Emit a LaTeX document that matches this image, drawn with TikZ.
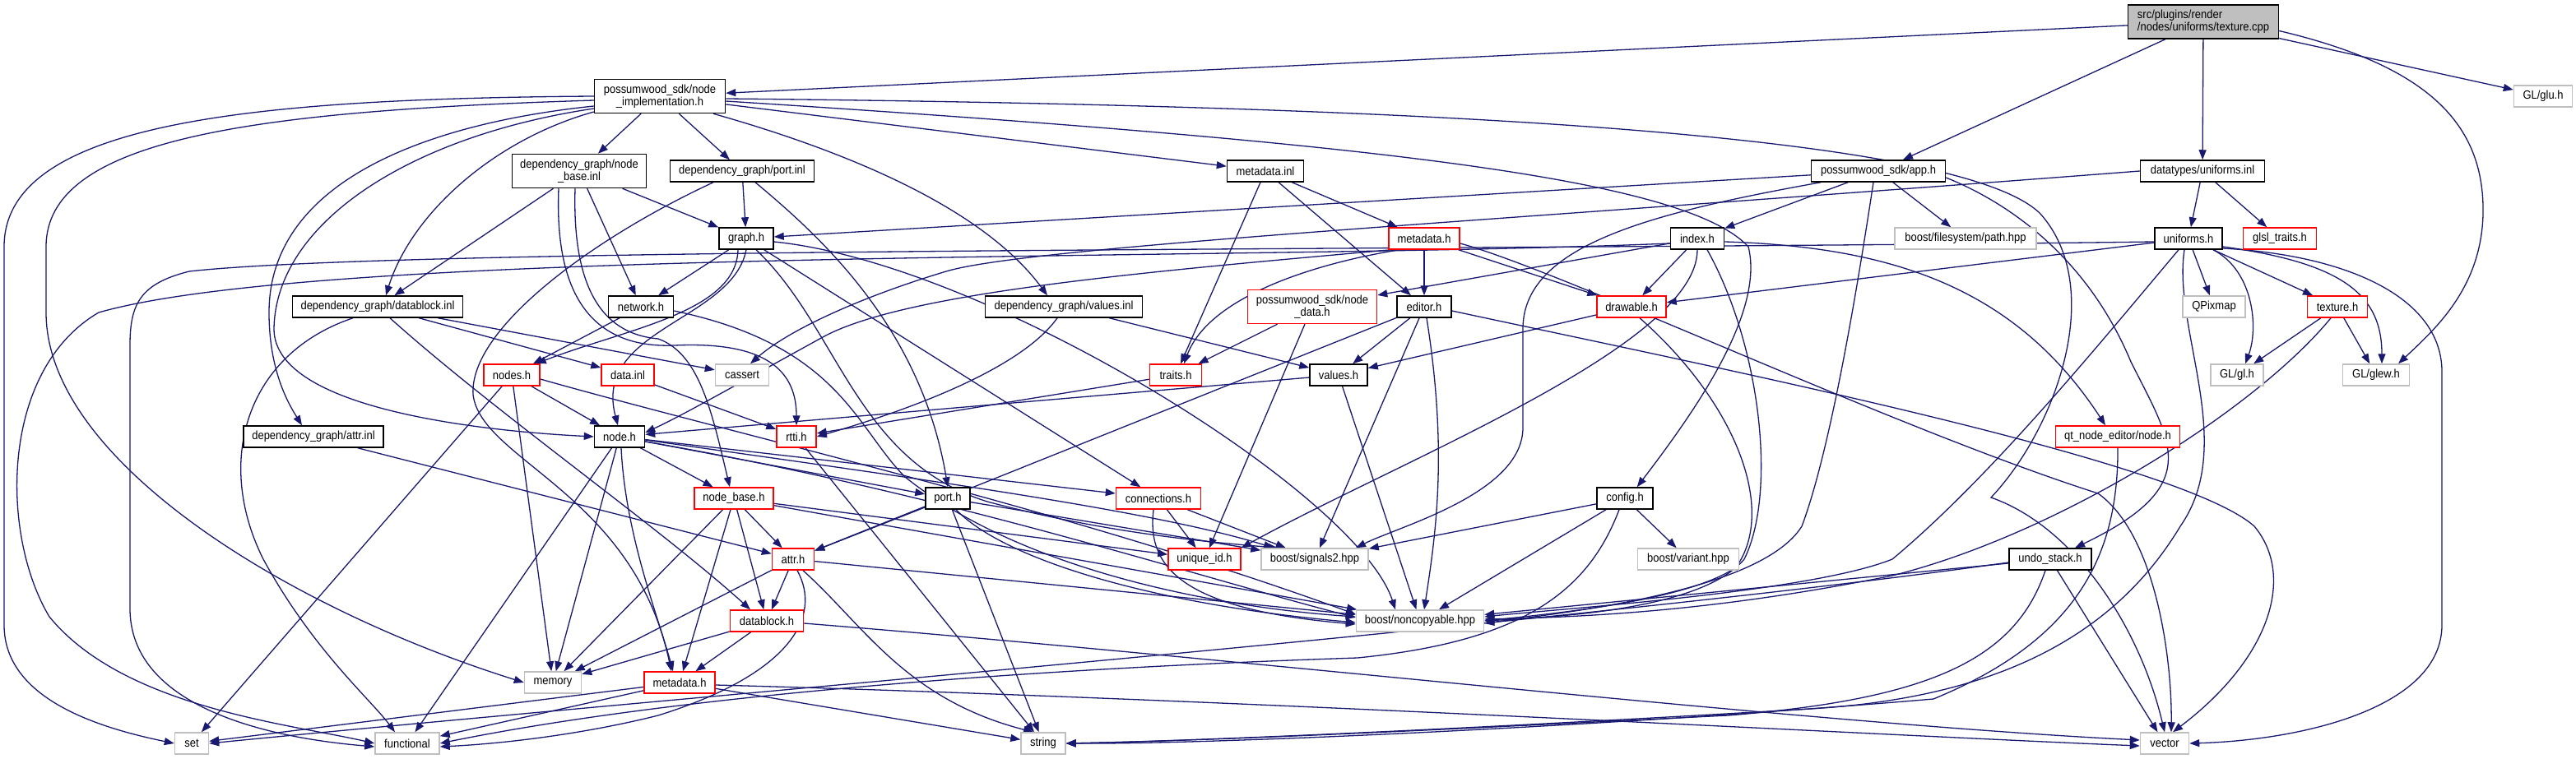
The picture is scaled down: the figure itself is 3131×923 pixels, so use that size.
\documentclass[tikz,border=0pt]{standalone}
\usepackage{fontspec}
\setmainfont[FakeStretch=0.895]{Liberation Sans}
\usetikzlibrary{arrows.meta}
\definecolor{eb}{HTML}{191970}
\definecolor{gr}{HTML}{BFBFBF}
\definecolor{rd}{HTML}{FF0000}
\pgfdeclarelayer{edges}
\pgfsetlayers{edges,main}
\begin{document}
\begin{tikzpicture}[x=1pt,y=-1pt,
  font=\fontsize{14.5pt}{15pt}\selectfont,
  bx/.style={draw, line width=1.5pt, minimum height=26pt, inner sep=0pt, fill=white, align=center},
  kbx/.style={bx, draw=black},
  gbx/.style={bx, draw=gr},
  rbx/.style={bx, draw=rd},
  rootbx/.style={bx, draw=black, fill=gr, align=left},
  e/.style={draw=eb, line width=1.3pt, -{Triangle[length=12pt,width=9pt]}}]
\useasboundingbox (0,0) rectangle (3131,923);
% nodes
\node[rootbx, minimum width=183pt, minimum height=41pt] (cpp) at (2678,26.5) {src/plugins/render\\/nodes/uniforms/texture.cpp};
\node[kbx, minimum width=159pt, minimum height=41pt] (nimpl) at (802,117) {possumwood\_sdk/node\\\_implementation.h};
\node[gbx, minimum width=71pt] (glu) at (3091,117) {GL/glu.h};
\node[kbx, minimum width=163pt] (app) at (2283,208) {possumwood\_sdk/app.h};
\node[kbx, minimum width=151pt] (uinl) at (2677,208) {datatypes/uniforms.inl};
\node[kbx, minimum width=163pt, minimum height=41pt] (nbinl) at (704,208) {dependency\_graph/node\\\_base.inl};
\node[kbx, minimum width=175pt] (pinl) at (902,208) {dependency\_graph/port.inl};
\node[kbx, minimum width=93pt] (minl) at (1538,208) {metadata.inl};
\node[kbx, minimum width=66pt] (graph) at (907,290) {graph.h};
\node[rbx, minimum width=86pt] (metah) at (1731,290) {metadata.h};
\node[kbx, minimum width=65pt] (index) at (2063,290) {index.h};
\node[gbx, minimum width=172pt] (path) at (2389,290) {boost/filesystem/path.hpp};
\node[kbx, minimum width=82pt] (unif) at (2660,290) {uniforms.h};
\node[rbx, minimum width=89pt] (glsl) at (2771,290) {glsl\_traits.h};
\node[kbx, minimum width=207pt] (dbinl) at (459,373) {dependency\_graph/datablock.inl};
\node[kbx, minimum width=79pt] (network) at (779,373) {network.h};
\node[kbx, minimum width=191pt] (vinl) at (1293,373) {dependency\_graph/values.inl};
\node[rbx, minimum width=157pt, minimum height=41pt] (ndata) at (1595,373) {possumwood\_sdk/node\\\_data.h};
\node[kbx, minimum width=66pt] (editor) at (1731,373) {editor.h};
\node[rbx, minimum width=84pt] (drawable) at (1983,373) {drawable.h};
\node[gbx, minimum width=76pt] (qpix) at (2691,373) {QPixmap};
\node[rbx, minimum width=73pt] (texh) at (2841,373) {texture.h};
\node[rbx, minimum width=68pt] (nodes) at (622,456) {nodes.h};
\node[rbx, minimum width=64pt] (datainl) at (763,456) {data.inl};
\node[gbx, minimum width=65pt] (cassert) at (902,456) {cassert};
\node[rbx, minimum width=63pt] (traits) at (1429,456) {traits.h};
\node[kbx, minimum width=70pt] (values) at (1627,456) {values.h};
\node[gbx, minimum width=64pt] (gl) at (2719,456) {GL/gl.h};
\node[gbx, minimum width=81pt] (glew) at (2888,456) {GL/glew.h};
\node[kbx, minimum width=170pt] (attrinl) at (381,531) {dependency\_graph/attr.inl};
\node[kbx, minimum width=61pt] (nodeh) at (753,531) {node.h};
\node[rbx, minimum width=48pt] (rtti) at (968,531) {rtti.h};
\node[rbx, minimum width=151pt] (qtnode) at (2574,531) {qt\_node\_editor/node.h};
\node[rbx, minimum width=96pt] (nbase) at (892,606) {node\_base.h};
\node[kbx, minimum width=54pt] (porth) at (1152,606) {port.h};
\node[rbx, minimum width=103pt] (conn) at (1408,606) {connections.h};
\node[kbx, minimum width=68pt] (config) at (1975,606) {config.h};
\node[rbx, minimum width=51pt] (attrh) at (964,680) {attr.h};
\node[rbx, minimum width=88pt] (uid) at (1464,680) {unique\_id.h};
\node[gbx, minimum width=130pt] (sig) at (1598,680) {boost/signals2.hpp};
\node[gbx, minimum width=123pt] (variant) at (2052,680) {boost/variant.hpp};
\node[kbx, minimum width=100pt] (undo) at (2492,680) {undo\_stack.h};
\node[rbx, minimum width=89pt] (dbh) at (932,755) {datablock.h};
\node[gbx, minimum width=155pt] (noncopy) at (1726,755) {boost/noncopyable.hpp};
\node[gbx, minimum width=69pt] (memory) at (672,830) {memory};
\node[rbx, minimum width=86pt] (metah2) at (826,830) {metadata.h};
\node[gbx, minimum width=41pt] (set) at (233,904) {set};
\node[gbx, minimum width=78pt] (functional) at (495,904) {functional};
\node[gbx, minimum width=54pt] (string) at (1268,904) {string};
\node[gbx, minimum width=59pt] (vector) at (2631,904) {vector};
\begin{pgfonlayer}{edges}
\fill[white] (0,0) rectangle (3131,923);
% root
\draw[e] (cpp) -- (nimpl);
\draw[e] (cpp) -- (app);
\draw[e] (cpp) -- (uinl);
\draw[e] (cpp) -- (glu);
\draw[e] ([yshift=-11pt]cpp.east) .. controls (2950,80) and (3020,150) .. (3018,260) .. controls (3016,350) and (2960,400) .. ([xshift=27pt]glew.north);
% node_implementation
\draw[e] (nimpl) -- (nbinl);
\draw[e] (nimpl) -- (pinl);
\draw[e] (nimpl) -- (minl);
\draw[e] (nimpl.west) .. controls (300,120) and (5,150) .. (5,300) -- (5,760) .. controls (5,850) and (120,885) .. (set.west);
\draw[e] ([yshift=-5pt]nimpl.west) .. controls (300,135) and (56,170) .. (56,300) -- (56,380) .. controls (56,560) and (350,740) .. (memory.west);
\draw[e] ([yshift=-12pt]nimpl.west) .. controls (520,150) and (327,220) .. (327,380) .. controls (327,450) and (350,490) .. ([xshift=-14pt]attrinl.north);
\draw[e] ([yshift=-15pt]nimpl.west) .. controls (500,165) and (335,270) .. (333,400) .. controls (333,500) and (600,525) .. (nodeh.west);
\draw[e] ([yshift=-19pt]nimpl.west) .. controls (600,170) and (500,260) .. ([xshift=10pt]dbinl.north);
\draw[e] ([xshift=65pt]nimpl.south) .. controls (1050,190) and (1200,260) .. ([xshift=-20pt]vinl.north);
\draw[e] ([yshift=-3pt]nimpl.east) .. controls (1700,128) and (2380,160) .. (2480,260) .. controls (2560,350) and (2500,520) .. (2420,605) .. controls (2520,640) and (2600,760) .. (vector.north);
\draw[e] ([yshift=-6pt]nimpl.east) .. controls (1700,175) and (2050,220) .. (2125,300) .. controls (2145,380) and (2060,500) .. ([xshift=-20pt]config.north east);
% node_base.inl
\draw[e] (nbinl) -- (dbinl);
\draw[e] (nbinl) -- (network);
\draw[e] (nbinl) -- (graph);
\draw[e] ([xshift=-25pt]nbinl.south) .. controls (675,330) and (700,425) .. (820,420) .. controls (930,415) and (968,450) .. (rtti.north);
\draw[e] ([xshift=-5pt]nbinl.south) .. controls (696,330) and (720,405) .. (800,412) .. controls (850,430) and (865,500) .. ([xshift=-5pt]nbase.north);
% port.inl
\draw[e] (pinl) -- (graph);
\draw[e] ([xshift=16pt]pinl.south) .. controls (1000,290) and (1120,400) .. (porth.north);
\draw[e] ([xshift=-35pt]pinl.south) .. controls (720,290) and (570,400) .. (575,480) .. controls (585,560) and (770,600) .. ([xshift=-10pt]metah2.north);
% metadata.inl
\draw[e] (minl) -- (metah);
\draw[e] (minl) -- (editor);
\draw[e] (minl) -- (traits);
% app.h
\draw[e] (app) -- (graph);
\draw[e] (app) -- (index);
\draw[e] (app) -- (path);
\draw[e] ([xshift=-70pt]app.south) .. controls (2000,260) and (1851,300) .. (1851,400) -- (1851,520) .. controls (1851,600) and (1700,640) .. ([xshift=50pt]sig.north);
\draw[e] ([xshift=-6pt]app.south) .. controls (2250,400) and (2220,560) .. (2190,640) .. controls (2140,720) and (1900,745) .. ([yshift=-3pt]noncopy.east);
\draw[e] ([yshift=-8pt]app.east) .. controls (2450,250) and (2540,320) .. (2590,440) .. controls (2640,540) and (2680,590) .. ([xshift=30pt]undo.north);
% uniforms.inl
\draw[e] (uinl) -- (unif);
\draw[e] (uinl) -- (glsl);
\draw[e] (uinl.west) .. controls (1800,270) and (1250,300) .. (1150,330) .. controls (1050,360) and (960,400) .. ([xshift=10pt]cassert.north);
% graph.h
\draw[e] (graph) -- (network);
\draw[e] ([xshift=-10pt]graph.south) .. controls (895,380) and (760,400) .. ([xshift=-5pt]nodes.north east);
\draw[e] (graph.south) .. controls (890,390) and (720,400) .. ([xshift=-2pt]nodeh.north);
\draw[e] (graph) -- (conn);
\draw[e] ([xshift=12pt]graph.south) .. controls (1020,400) and (1040,560) .. (1200,610) .. controls (1350,650) and (1480,660) .. ([xshift=-45pt]sig.north);
\draw[e] ([yshift=-4pt]graph.east) .. controls (1200,320) and (1650,600) .. ([xshift=-30pt]noncopy.north);
% metadata.h
\draw[e] (metah) -- (editor);
\draw[e] (metah) -- (drawable);
\draw[e] ([xshift=-30pt]metah.south) .. controls (1600,320) and (1470,360) .. ([xshift=10pt]traits.north);
\draw[e] ([xshift=-40pt]metah.south) .. controls (1400,330) and (1100,355) .. (1000,410) .. controls (900,465) and (830,505) .. ([yshift=5pt]nodeh.east);
\draw[e] ([yshift=-6pt]metah.east) .. controls (1900,330) and (2300,520) .. (2550,600) .. controls (2620,650) and (2640,800) .. ([xshift=8pt]vector.north);
% index.h
\draw[e] (index) -- (ndata);
\draw[e] ([yshift=-6pt]index.west) .. controls (1500,318) and (400,300) .. (120,380) .. controls (0,450) and (0,650) .. (60,750) .. controls (150,860) and (350,880) .. (functional.west);
\draw[e] (index) -- (drawable);
\draw[e] ([yshift=-4pt]index.east) .. controls (2300,300) and (2450,350) .. ([xshift=-15pt]qtnode.north);
\draw[e] (index.south) .. controls (2063,420) and (1700,560) .. (uid.north east);
\draw[e] ([xshift=12pt]index.south) .. controls (2140,420) and (2160,600) .. (2120,680) .. controls (2070,740) and (1900,750) .. (noncopy.east);
% uniforms.h
\draw[e] ([yshift=-4pt]unif.west) .. controls (1800,305) and (500,300) .. (230,330) .. controls (170,345) and (158,370) .. (158,420) -- (158,740) .. controls (158,850) and (300,895) .. ([yshift=-4pt]functional.west);
\draw[e] (unif) -- (drawable);
\draw[e] (unif) -- (qpix);
\draw[e] (unif) -- (texh);
\draw[e] ([xshift=30pt]unif.south) .. controls (2740,330) and (2745,400) .. ([xshift=10pt]gl.north);
\draw[e] ([yshift=-10pt]unif.east) .. controls (2850,320) and (2895,360) .. ([xshift=7pt]glew.north);
\draw[e] ([yshift=-12pt]unif.east) .. controls (2850,310) and (2966,360) .. (2968,450) -- (2968,760) .. controls (2968,860) and (2800,900) .. (vector.east);
\draw[e] ([xshift=-12pt]unif.south) .. controls (2550,420) and (2420,580) .. (2300,680) .. controls (2200,720) and (1900,740) .. ([yshift=5pt]noncopy.east);
\draw[e] ([xshift=-5pt]unif.south) .. controls (2640,400) and (2720,540) .. (2650,640) .. controls (2560,790) and (2400,850) .. (2200,862) .. controls (1900,880) and (1500,900) .. (string.east);
% datablock.inl
\draw[e] ([xshift=-30pt]dbinl.south) .. controls (300,430) and (260,560) .. (320,680) .. controls (380,790) and (450,850) .. ([xshift=-15pt]functional.north);
\draw[e] (dbinl) -- (datainl);
\draw[e] (dbinl) -- (cassert);
\draw[e] ([xshift=15pt]dbinl.south) .. controls (600,500) and (800,640) .. ([xshift=-20pt]dbh.north);
% network.h
\draw[e] (network) -- (nodes);
\draw[e] ([yshift=-5pt]network.east) .. controls (1020,420) and (1040,520) .. (1100,580) .. controls (1250,700) and (1500,740) .. ([yshift=5pt]noncopy.west);
% values.inl
\draw[e] (vinl) -- (values);
\draw[e] ([xshift=-8pt]vinl.south) .. controls (1240,450) and (1100,500) .. (rtti.east);
% node_data.h
\draw[e] (ndata) -- (traits);
\draw[e] (ndata) -- (uid);
% editor.h
\draw[e] (editor) -- (values);
\draw[e] (editor) -- (attrh);
\draw[e] (editor) -- (sig);
\draw[e] ([xshift=3pt]editor.south) .. controls (1760,550) and (1745,650) .. ([xshift=5pt]noncopy.north);
\draw[e] ([yshift=-5pt]editor.east) .. controls (2100,450) and (2650,560) .. (2740,640) .. controls (2790,700) and (2760,800) .. ([xshift=10pt]vector.north);
% drawable.h
\draw[e] (drawable) -- (values);
\draw[e] ([xshift=10pt]drawable.south) .. controls (2110,490) and (2160,620) .. (2110,690) .. controls (2050,730) and (1900,745) .. (noncopy.east);
% texture.h
\draw[e] (texh) -- (gl);
\draw[e] (texh) -- (glew);
\draw[e] ([xshift=-8pt]texh.south) .. controls (2740,500) and (2500,650) .. (2300,700) .. controls (2100,740) and (1950,750) .. ([yshift=2pt]noncopy.east);
% nodes.h
\draw[e] (nodes) -- (nodeh);
\draw[e] (nodes) -- (set);
\draw[e] (nodes) -- (memory);
\draw[e] ([yshift=-5pt]nodes.east) .. controls (900,530) and (1300,620) .. ([yshift=8pt]noncopy.west);
% misc
\draw[e] (datainl) -- (rtti);
\draw[e] (traits) -- (rtti);
\draw[e] (values) -- (nodeh);
\draw[e] (values) -- (noncopy);
\draw[e] (attrinl) -- (attrh);
% node.h
\draw[e] (nodeh) -- (nbase);
\draw[e] (nodeh) -- (porth);
\draw[e] (nodeh) -- (conn);
\draw[e] ([xshift=2pt]nodeh.south) .. controls (760,650) and (800,750) .. ([xshift=-8pt]metah2.north);
\draw[e] (nodeh) -- (memory);
\draw[e] (nodeh) -- (functional);
\draw[e] ([yshift=-4pt]nodeh.east) .. controls (1100,580) and (1400,620) .. ([xshift=-50pt]sig.north);
\draw[e] ([yshift=-6pt]nodeh.east) .. controls (1150,600) and (1450,700) .. ([yshift=4pt]noncopy.west);
% rtti, qt node
\draw[e] (rtti) -- (string);
\draw[e] (qtnode.south) .. controls (2575,680) and (2520,780) .. (2350,850) .. controls (2000,880) and (1500,905) .. (string.east);
% node_base.h
\draw[e] (nbase) -- (attrh);
\draw[e] (nbase) -- (dbh);
\draw[e] (nbase) -- (metah2);
\draw[e] (nbase) -- (uid);
\draw[e] (nbase) -- (memory);
\draw[e] (nbase) -- (noncopy);
% port.h
\draw[e] (porth) -- (attrh);
\draw[e] (porth) -- (sig);
\draw[e] (porth) -- (string);
\draw[e] ([xshift=10pt]porth.south) .. controls (1220,680) and (1400,735) .. ([yshift=-2pt]noncopy.west);
% connections.h
\draw[e] (conn) -- (uid);
\draw[e] (conn) -- (sig);
\draw[e] ([xshift=-6pt]conn.south) .. controls (1395,680) and (1420,740) .. ([yshift=-4pt]noncopy.west);
% config.h
\draw[e] (config) -- (sig);
\draw[e] (config) -- (variant);
\draw[e] (config) -- (noncopy);
\draw[e] ([xshift=-7pt]config.south) .. controls (1930,720) and (1850,780) .. (1650,800) .. controls (1200,815) and (800,850) .. (functional.east);
% attr.h
\draw[e] (attrh) -- (dbh);
\draw[e] (attrh) -- (memory);
\draw[e] ([xshift=5pt]attrh.south) .. controls (1000,750) and (960,820) .. (800,870) .. controls (700,895) and (600,905) .. ([yshift=-4pt]functional.east);
\draw[e] ([xshift=12pt]attrh.south) .. controls (1050,760) and (1100,850) .. ([xshift=-12pt]string.north);
\draw[e] (attrh) -- (noncopy);
% undo_stack.h
\draw[e] (undo) -- (noncopy);
\draw[e] ([yshift=-4pt]undo.west) .. controls (1900,760) and (800,850) .. (set.east);
\draw[e] ([xshift=-6pt]undo.south) .. controls (2450,800) and (2350,850) .. (2100,870) .. controls (1800,885) and (1500,900) .. (string.east);
\draw[e] (undo) -- (vector);
% datablock.h
\draw[e] (dbh) -- (metah2);
\draw[e] (dbh) -- (memory);
\draw[e] ([yshift=-3pt]dbh.east) .. controls (1500,800) and (2200,880) .. ([yshift=4pt]vector.west);
% metadata.h (lower)
\draw[e] (metah2) -- (set);
\draw[e] (metah2) -- (functional);
\draw[e] (metah2) -- (string);
\draw[e] ([yshift=-3pt]metah2.east) .. controls (1500,850) and (2300,895) .. ([yshift=-3pt]vector.west);
\end{pgfonlayer}
\end{tikzpicture}
\end{document}
